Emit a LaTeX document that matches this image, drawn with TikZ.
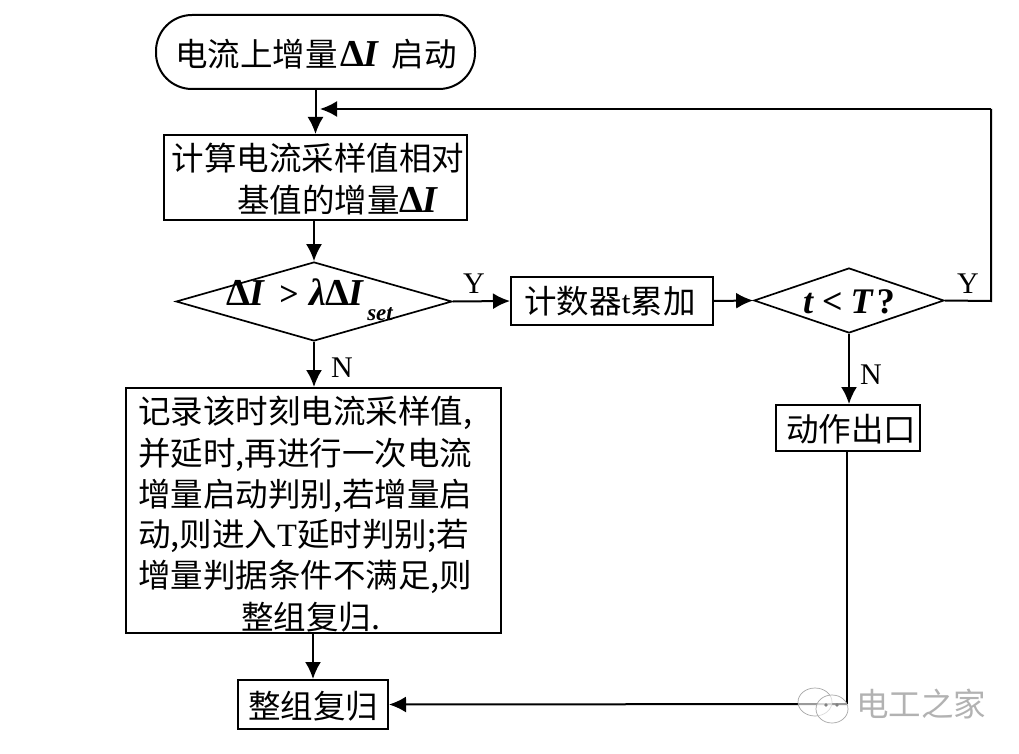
\documentclass[tikz,border=0pt]{standalone}
\usepackage{fontspec}
\usetikzlibrary{shapes.geometric,arrows.meta}
\setmainfont{Noto Sans CJK SC}
\newfontfamily\latinf{Liberation Serif}
\newcommand{\DI}{{\latinf\fontsize{38}{38}\selectfont\textbf{Δ\hspace{-1pt}\textit{I}}}}
\begin{document}
\begin{tikzpicture}[x=1pt,y=-1pt,
  box/.style={draw=black,line width=2pt,inner sep=0pt},
  txt/.style={font=\fontsize{32.5}{33}\selectfont,inner sep=0pt,anchor=center},
  lett/.style={font=\latinf\fontsize{30}{30}\selectfont,inner sep=0pt},
  dmd/.style={draw=black,line width=1.7pt,diamond,aspect=3.4,inner sep=0pt},
  conn/.style={draw=black,line width=2pt,-{Latex[length=17pt,width=16pt]}},
  plain/.style={draw=black,line width=2pt},
  wm/.style={draw=black!35,line width=0.7pt,fill=white,fill opacity=0.6}]
\useasboundingbox (0,0) rectangle (1019,754);
\node[box,rounded corners=36pt,minimum width=319pt,minimum height=74pt] (start) at (315.5,52) {};
\node[txt] (startt) at (316,54) {电流上增量\hspace{3pt}\DI\hspace{12pt}启动};
\node[box,minimum width=303pt,minimum height=85pt] (calc) at (315.5,177.5) {};
\node[txt] (calct1) at (318,158) {计算电流采样值相对};
\node[txt] (calct2) at (338,200) {基值的增量\DI};
\node[dmd,minimum width=276pt,minimum height=79pt] (d1) at (314,301.5) {};
\node[inner sep=0pt] (d1t) at (310,300) {\DI\hspace{14pt}{\latinf\fontsize{34}{34}\selectfont\textbf{>}}\hspace{11pt}{\latinf\fontsize{38}{38}\selectfont\textbf{\textit{λ}\hspace{-1pt}Δ\hspace{-1pt}\textit{I}}}\raisebox{-15pt}{\latinf\fontsize{23}{23}\selectfont\hspace{3pt}\textbf{\textit{set}}}};
\node[box,minimum width=202pt,minimum height=48pt] (cnt) at (612,301) {};
\node[txt] (cntt) at (610,301) {计数器{\latinf t}累加};
\node[dmd,minimum width=190pt,minimum height=65pt] (d2) at (849,300.5) {};
\node[inner sep=0pt] (d2t) at (849,302) {\latinf\fontsize{36}{36}\selectfont\textbf{\textit{t}\hspace{8pt}<\hspace{8pt}\textit{T}\hspace{3pt}?}};
\node[box,minimum width=375pt,minimum height=245pt] (rec) at (313.5,510.5) {};
\node[txt,anchor=west] (r1) at (138,413) {记录该时刻电流采样值,};
\node[txt,anchor=west] (r2) at (138,455) {并延时,再进行一次电流};
\node[txt,anchor=west] (r3) at (138,496) {增量启动判别,若增量启};
\node[txt,anchor=west] (r4) at (138,536) {动,则进入{\latinf T}延时判别;若};
\node[txt,anchor=west] (r5) at (138,577) {增量判据条件不满足,则};
\node[txt,anchor=west] (r6) at (241,617) {整组复归.};
\node[box,minimum width=144pt,minimum height=46pt] (act) at (848,428) {};
\node[txt] (actt) at (851,429) {动作出口};
\node[box,minimum width=150pt,minimum height=49pt] (rst) at (313,704.5) {};
\node[txt] (rstt) at (313,706) {整组复归};
\coordinate (loopj) at (320,109);
\coordinate (c1) at (991,301);
\coordinate (c2) at (991,109);
\coordinate (c3) at (847,704);
\draw[conn] (start.south -| 315.5,0) -- (calc.north -| 315.5,0);
\draw[conn] (calc.south -| 314,0) -- (d1.north);
\draw[conn] (d1.east) -- (cnt.west);
\draw[conn] (cnt.east) -- (d2.west);
\draw[plain] (d2.east) -- (c1) -- (c2);
\draw[conn] (c2) -- (loopj);
\draw[conn] (d1.south) -- (rec.north -| d1.south);
\draw[conn] (d2.south) -- (act.north -| d2.south);
\draw[plain] (act.south -| c3) -- (c3);
\draw[conn] (c3) -- (rst.east);
\draw[conn] (rec.south -| rst.north) -- (rst.north);
\node[lett] (ly1) at (474,284) {Y};
\node[lett] (ly2) at (968,284) {Y};
\node[lett] (ln1) at (342,368) {N};
\node[lett] (ln2) at (871,375) {N};
\draw[wm] (815,702) ellipse (17pt and 14pt);
\draw[wm] (832,709) ellipse (16pt and 14pt);
\fill[black!50] (826,705) circle (1.8pt) (837,705) circle (1.8pt);
\node[txt,text=black!30] (wmt) at (921,704) {电工之家};
\end{tikzpicture}
\end{document}
